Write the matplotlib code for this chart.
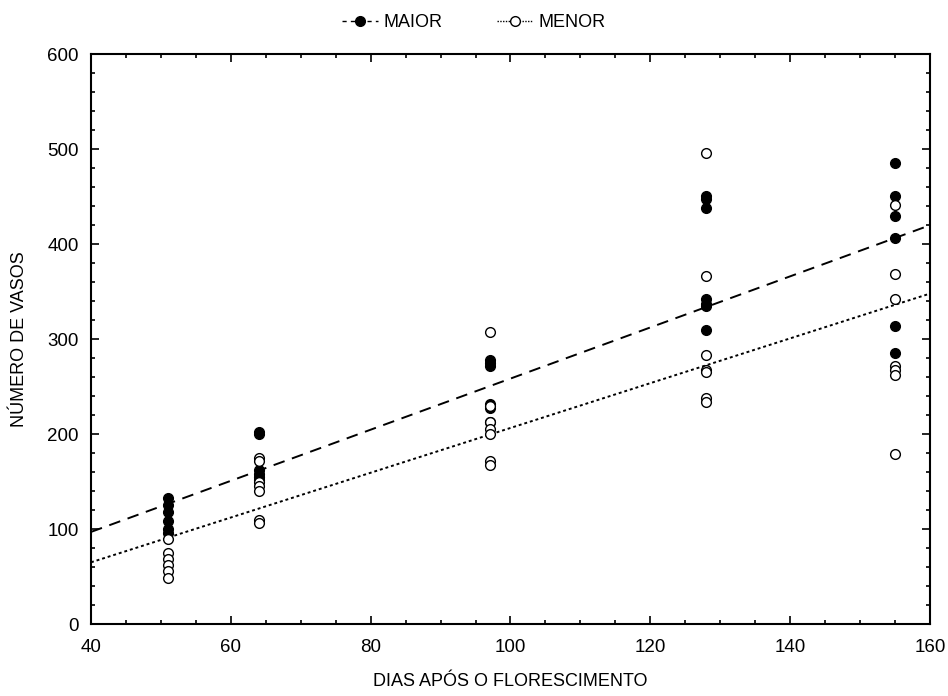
import matplotlib
matplotlib.use("Agg")
import matplotlib.pyplot as plt
from matplotlib.ticker import MultipleLocator
from matplotlib.lines import Line2D

plt.rcParams['font.family'] = ['Liberation Sans', 'DejaVu Sans']

# Data
maior_x = [51]*6 + [64]*6 + [97]*6 + [128]*7 + [155]*6
maior_y = [133, 125, 118, 108, 100, 96,
           202, 200, 162, 158, 155, 152,
           278, 275, 272, 232, 228, 213,
           451, 448, 438, 342, 337, 335, 310,
           485, 451, 430, 407, 314, 285]
menor_x = [51]*6 + [64]*7 + [97]*7 + [128]*7 + [155]*7
menor_y = [90, 75, 68, 62, 56, 48,
           175, 172, 150, 145, 140, 110, 106,
           308, 230, 213, 205, 200, 172, 168,
           496, 367, 283, 268, 265, 238, 234,
           441, 369, 342, 272, 268, 262, 179]

# Regression lines (endpoints)
fit_x = [40, 160]
maior_fit = [97, 420]
menor_fit = [65, 348]

labels = ["MAIOR", "MENOR"]

fig = plt.figure(figsize=(9.48, 6.96), dpi=100)
ax = fig.add_axes([0.096, 0.1034, 0.885, 0.8186])

ax.plot(fit_x, maior_fit, color='black', linestyle=(0, (6, 4)), linewidth=1.4, zorder=2)
ax.plot(fit_x, menor_fit, color='black', linestyle=(0, (1.5, 1.5)), linewidth=1.4, zorder=2)
ax.plot(maior_x, maior_y, linestyle='none', marker='o', markersize=7,
        markerfacecolor='black', markeredgecolor='black', zorder=3)
ax.plot(menor_x, menor_y, linestyle='none', marker='o', markersize=7,
        markerfacecolor='white', markeredgecolor='black', markeredgewidth=1.0, zorder=4)

ax.set_xlim(40, 160)
ax.set_ylim(0, 600)
ax.xaxis.set_major_locator(MultipleLocator(20))
ax.xaxis.set_minor_locator(MultipleLocator(5))
ax.yaxis.set_major_locator(MultipleLocator(100))
ax.yaxis.set_minor_locator(MultipleLocator(20))
ax.tick_params(which='both', direction='in', top=True, right=True, labelsize=13.5, width=1.2)
ax.tick_params(which='major', length=6)
ax.tick_params(axis='x', which='major', pad=11)
ax.tick_params(axis='y', which='major', pad=9)
ax.tick_params(which='minor', length=3)
for s in ax.spines.values():
    s.set_linewidth(1.5)

ax.set_xlabel("DIAS APÓS O FLORESCIMENTO", fontsize=13, labelpad=12)
ax.set_ylabel("NÚMERO DE VASOS", fontsize=13, labelpad=14)

handles = [
    Line2D([], [], color='black', linestyle=(0, (3, 3)), linewidth=1, marker='o',
           markersize=7, markerfacecolor='black', markeredgecolor='black'),
    Line2D([], [], color='black', linestyle=(0, (1, 1)), linewidth=1, marker='o',
           markersize=7, markerfacecolor='white', markeredgecolor='black'),
]
fig.legend(handles, labels, loc='center', bbox_to_anchor=(0.5, 0.967), ncol=2,
           frameon=False, fontsize=13, handlelength=2.0, columnspacing=3.0,
           handletextpad=0.3)

fig.savefig("out.png", dpi=100, facecolor='white')
